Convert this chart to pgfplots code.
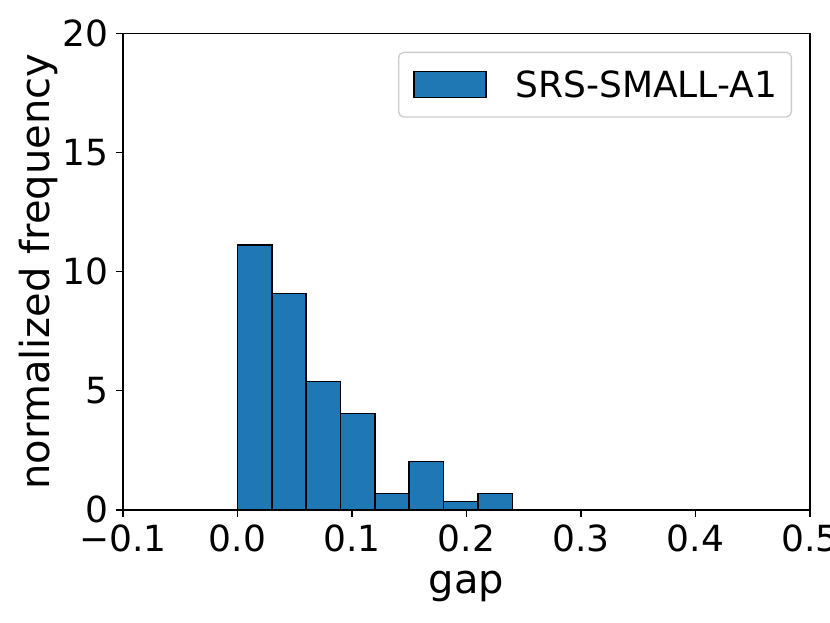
\documentclass[border=0pt]{standalone}
\usepackage{pgfplots}
\pgfplotsset{compat=1.18}
\usepackage{fontspec}
\setmainfont{DejaVu Sans}
\definecolor{tabblue}{HTML}{1F77B4}
\newcommand{\fs}{\fontsize{36bp}{42bp}\selectfont}
\newcommand{\fl}{\fontsize{40bp}{46bp}\selectfont}
\begin{document}
\begin{tikzpicture}
\begin{axis}[
  name=ax,
  scale only axis,
  width=687bp, height=476bp,
  xmin=-0.1, xmax=0.5, ymin=0, ymax=20,
  axis line style={line width=1.6bp},
  xtick={-0.1,0,0.1,0.2,0.3,0.4,0.5},
  xticklabels={−0.1,0.0,0.1,0.2,0.3,0.4,0.5},
  ytick={0,5,10,15,20},
  yticklabels={0,5,10,15,20},
  xtick pos=bottom, ytick pos=left,
  tick align=outside,
  major tick length=7bp,
  tick style={line width=1.6bp, black},
  xticklabel style={font=\fs, inner sep=0pt, anchor=north, yshift=-7.6bp},
  yticklabel style={font=\fs, inner sep=0pt, anchor=east, xshift=-7.7bp},
  xlabel={gap},
  ylabel={normalized frequency},
  x label style={font=\fl, at={(axis description cs:0.5,-0.17563)}, anchor=base, inner sep=0pt},
  y label style={font=\fl, at={(axis description cs:-0.10626,0.5)}, rotate=0, anchor=base, inner sep=0pt},
  legend style={font=\fs, at={(axis description cs:0.97380,0.96218)}, anchor=north east,
    draw=black!20, line width=1.3bp, rounded corners=5bp, fill=white,
    inner xsep=14.4bp, inner ysep=18.5bp,
    nodes={inner sep=0pt, text height=26bp, text depth=0pt}, column sep=28.8bp},
  legend image code/.code={\draw[fill=tabblue,draw=black,line width=1.6bp,sharp corners] (0bp,-13.5bp) rectangle (72bp,12.5bp);},
]
\addplot[ybar interval, fill=tabblue, draw=black, line width=1.6bp] coordinates {
  (0.00,11.111) (0.03,9.091) (0.06,5.387) (0.09,4.040) (0.12,0.673)
  (0.15,2.020) (0.18,0.337) (0.21,0.673) (0.24,0)
};
\addlegendentry{SRS-SMALL-A1}
\end{axis}
\pgfresetboundingbox
\path[use as bounding box] ([xshift=-123bp,yshift=-113.3bp]ax.south west) rectangle ([xshift=20bp,yshift=33.7bp]ax.north east);
\end{tikzpicture}
\end{document}
